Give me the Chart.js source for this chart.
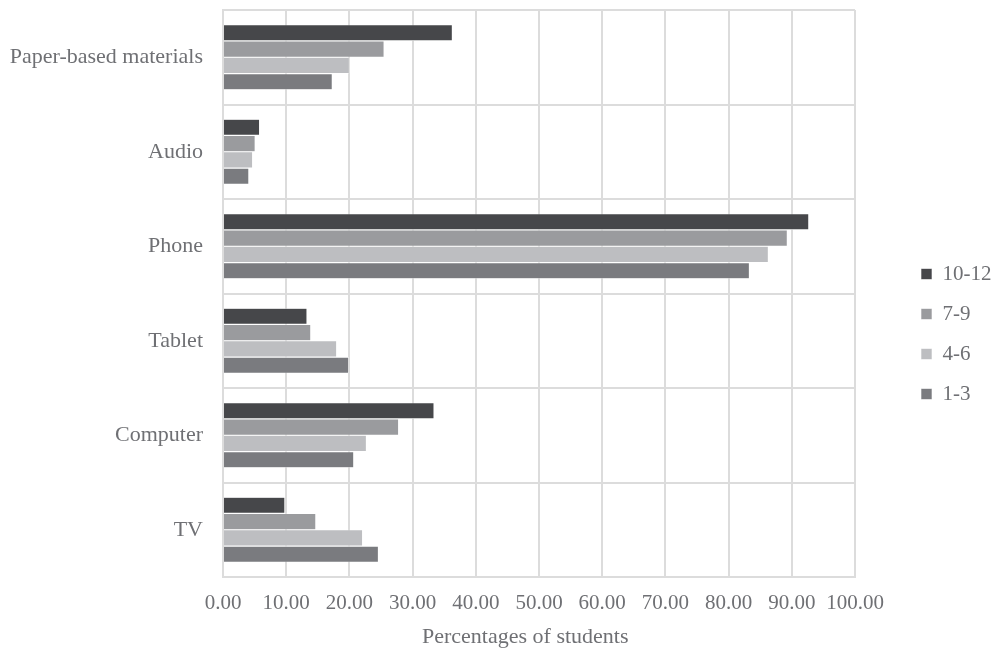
<!DOCTYPE html>
<html>
<head>
<meta charset="utf-8">
<script src="https://cdn.jsdelivr.net/npm/chart.js@4.4.1/dist/chart.umd.min.js"></script>
<style>
  html, body { margin: 0; padding: 0; background: #fff; }
  #wrap { width: 996px; height: 652px; }
</style>
</head>
<body>
<div id="wrap"><canvas id="devicesChart"></canvas></div>
<script>
const categories = ['Paper-based materials', 'Audio', 'Phone', 'Tablet', 'Computer', 'TV'];
const grade10to12 = [36.3, 5.8, 92.7, 13.3, 33.4, 9.8];
const grade7to9 = [25.5, 5.1, 89.3, 13.9, 27.8, 14.7];
const grade4to6 = [20.0, 4.7, 86.3, 18.0, 22.7, 22.1];
const grade1to3 = [17.3, 4.1, 83.3, 19.9, 20.7, 24.6];
const xTicks = [0, 10, 20, 30, 40, 50, 60, 70, 80, 90, 100];

const textColor = '#6f7074';
const gridColor = '#dcdcdc';
const serif = '"Liberation Serif", "Times New Roman", serif';
const font = { family: serif, size: 21 };

function series(label, data, color) {
  return {
    label: label,
    data: data,
    backgroundColor: color,
    borderColor: '#ffffff',
    borderWidth: 0.6,
    borderSkipped: 'start',
    categoryPercentage: 0.69,
    barPercentage: 1.0
  };
}

// the legend sits well clear of the plot, so nudge it over once laid out
const legendShift = {
  id: 'legendShift',
  afterLayout(chart) {
    const lg = chart.legend;
    lg.left += 47;
    lg.right += 47;
    lg.top += 3;
    lg.bottom += 3;
  }
};

new Chart(document.getElementById('devicesChart'), {
  type: 'bar',
  data: {
    labels: categories,
    datasets: [
      series('10-12', grade10to12, '#46474a'),
      series('7-9', grade7to9, '#9a9b9e'),
      series('4-6', grade4to6, '#bdbec1'),
      series('1-3', grade1to3, '#7a7b7f')
    ]
  },
  plugins: [legendShift],
  options: {
    indexAxis: 'y',
    responsive: true,
    maintainAspectRatio: false,
    animation: false,
    layout: { padding: { top: 10, right: 6, left: 6, bottom: 0 } },
    plugins: {
      tooltip: { enabled: false },
      legend: {
        position: 'right',
        align: 'center',
        labels: {
          font: font,
          color: textColor,
          boxWidth: 11,
          boxHeight: 11,
          padding: 19
        }
      }
    },
    scales: {
      x: {
        min: 0,
        max: 100,
        afterBuildTicks: axis => { axis.ticks = xTicks.map(v => ({ value: v })); },
        afterFit: axis => {
          axis.height = 75;
          axis.paddingRight = 141;
        },
        ticks: {
          font: font,
          color: textColor,
          padding: 14,
          maxRotation: 0,
          callback: v => v.toFixed(2)
        },
        grid: { color: gridColor, lineWidth: 2, drawTicks: false },
        border: { display: true, color: gridColor, width: 2 },
        title: {
          display: true,
          text: 'Percentages of students     ',
          font: { family: serif, size: 22 },
          color: textColor,
          padding: { top: 0, bottom: 2 }
        }
      },
      y: {
        afterFit: axis => {
          axis.width = 217;
          axis.paddingTop = 0;
          axis.paddingBottom = 0;
        },
        ticks: { font: { family: serif, size: 22 }, color: textColor, padding: 20 },
        grid: { color: gridColor, lineWidth: 2, drawTicks: false, offset: true },
        border: { display: true, color: gridColor, width: 2 }
      }
    }
  }
});
</script>
</body>
</html>
